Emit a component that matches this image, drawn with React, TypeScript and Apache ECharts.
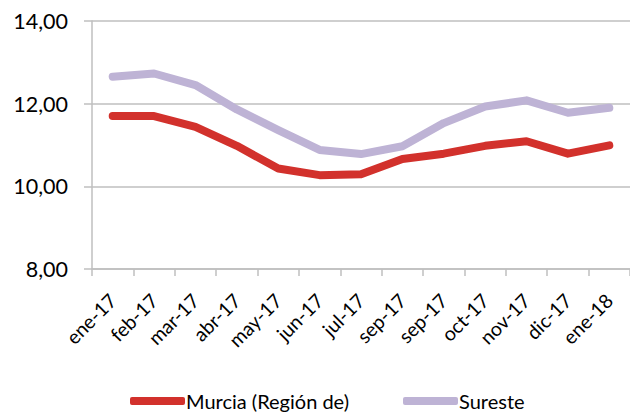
import React, { useEffect, useRef } from "react";
import * as echarts from "echarts";

const categories = ["ene-17", "feb-17", "mar-17", "abr-17", "may-17", "jun-17", "jul-17", "sep-17", "sep-17", "oct-17", "nov-17", "dic-17", "ene-18"];
const murcia = [11.70, 11.70, 11.44, 10.98, 10.43, 10.27, 10.29, 10.66, 10.79, 10.98, 11.09, 10.79, 10.99];
const sureste = [12.65, 12.73, 12.45, 11.86, 11.36, 10.88, 10.78, 10.97, 11.53, 11.93, 12.08, 11.78, 11.90];
const seriesNames = ["Murcia (Región de)", "Sureste"];
const colors = ["#D2312C", "#BEB3D5"];

const FONT = "Lato, 'Open Sans', sans-serif";

const legendBase = {
  top: 391,
  padding: 0,
  itemWidth: 55,
  itemHeight: 8,
  icon: "roundRect",
  textStyle: { fontSize: 20, color: "#000", fontFamily: FONT, padding: [0, 0, 0, -4] },
};

export default function App() {
  const ref = useRef<HTMLDivElement>(null);
  useEffect(() => {
    document.body.style.margin = "0";
    document.body.style.overflow = "hidden";
    if (!ref.current) return;
    const chart = echarts.init(ref.current, null, { renderer: "svg" });
    chart.setOption({
      animation: false,
      backgroundColor: "#ffffff",
      textStyle: { fontFamily: FONT },
      grid: { left: 92, right: -1, top: 21, bottom: 147, containLabel: false },
      legend: [
        { ...legendBase, left: 130, data: [seriesNames[0]] },
        { ...legendBase, left: 403, data: [seriesNames[1]] },
      ],
      xAxis: {
        type: "category",
        data: categories,
        boundaryGap: true,
        axisLine: { show: true, lineStyle: { color: "#BFBFBF", width: 1.5 } },
        axisTick: { show: true, length: 7, lineStyle: { color: "#BFBFBF", width: 1.5 } },
        axisLabel: { rotate: 45, fontSize: 19.5, color: "#000", margin: 28, fontFamily: FONT, interval: 0 },
      },
      yAxis: {
        type: "value",
        min: 8,
        max: 14,
        interval: 2,
        axisLine: { show: true, lineStyle: { color: "#BFBFBF", width: 1.5 } },
        axisTick: { show: true, length: 8, lineStyle: { color: "#BFBFBF", width: 1.5 } },
        splitLine: { show: true, lineStyle: { color: "#BFBFBF", width: 1.5 } },
        axisLabel: {
          fontSize: 21.5,
          color: "#000",
          margin: 24,
          fontFamily: FONT,
          formatter: (v: number) => v.toFixed(2).replace(".", ","),
        },
      },
      series: [
        {
          name: seriesNames[0],
          type: "line",
          data: murcia,
          symbol: "none",
          color: colors[0],
          lineStyle: { width: 8, color: colors[0], cap: "round", join: "round" },
          z: 3,
        },
        {
          name: seriesNames[1],
          type: "line",
          data: sureste,
          symbol: "none",
          color: colors[1],
          lineStyle: { width: 8, color: colors[1], cap: "round", join: "round" },
          z: 2,
        },
      ],
    });
    return () => chart.dispose();
  }, []);
  return <div ref={ref} style={{ position: "fixed", left: 0, top: 0, width: 630, height: 416 }} />;
}
